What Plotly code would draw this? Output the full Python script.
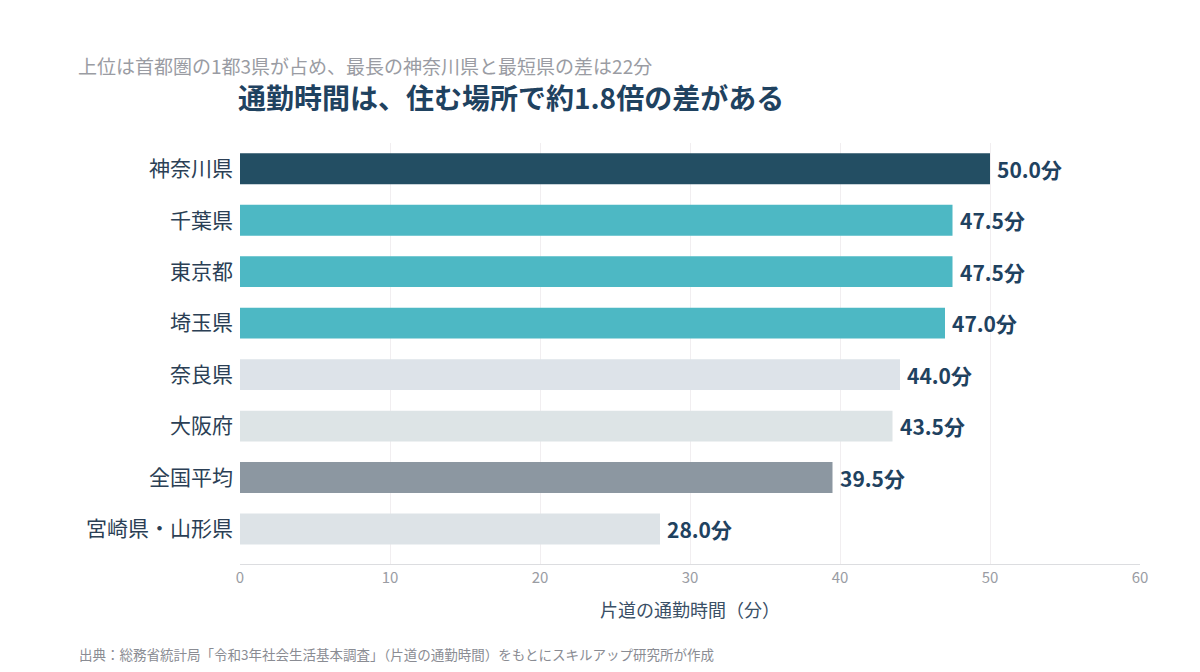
import plotly.graph_objects as go

categories = ["神奈川県", "千葉県", "東京都", "埼玉県", "奈良県", "大阪府", "全国平均", "宮崎県・山形県"]
values = [50.0, 47.5, 47.5, 47.0, 44.0, 43.5, 39.5, 28.0]
colors = ["#234e63", "#4db8c4", "#4db8c4", "#4db8c4", "#dde3e9", "#dde4e6", "#8c97a1", "#dde3e7"]
x_ticks = [0, 10, 20, 30, 40, 50, 60]

FONT = "Noto Sans CJK JP"

fig = go.Figure(go.Bar(
    x=values, y=categories, orientation="h",
    marker=dict(color=colors, line=dict(width=0)),
    width=0.6,
    hoverinfo="skip",
))

for c, v in zip(categories, values):
    fig.add_annotation(
        x=v, y=c, xref="x", yref="y", text=f"<b>{v:.1f}分</b>",
        xanchor="left", yanchor="middle", xshift=5, showarrow=False,
        font=dict(family=FONT, size=21, color="#1f4260"),
    )

fig.update_layout(
    width=1200, height=672,
    margin=dict(l=240, r=60, t=143, b=108),
    paper_bgcolor="white", plot_bgcolor="white",
    font=dict(family=FONT),
    showlegend=False,
    xaxis=dict(
        range=[0, 60], tickvals=x_ticks, showgrid=True, gridcolor="#f1eef0", gridwidth=1,
        zeroline=False, showline=True, linecolor="#dcdde0", linewidth=1,
        tickfont=dict(family=FONT, size=15, color="#9a9ca3"), ticks="",
        title=dict(text="片道の通勤時間（分）", font=dict(family=FONT, size=18, color="#3a4f66"), standoff=18),
    ),
    yaxis=dict(
        type="category", range=[7.68, -0.5], showgrid=False, zeroline=False,
        tickfont=dict(family=FONT, size=21, color="#2b3f55"), ticks="", ticklabelstandoff=6,
    ),
)

fig.add_annotation(
    text="上位は首都圏の1都3県が占め、最長の神奈川県と最短県の差は22分",
    xref="paper", yref="paper", x=-0.181, y=1 + (143 - 65) / 421, xanchor="left", yanchor="middle",
    showarrow=False, borderpad=0, font=dict(family=FONT, size=19, color="#9a9ca3"),
)
fig.add_annotation(
    text="<b>通勤時間は、住む場所で約1.8倍の差がある</b>",
    xref="paper", yref="paper", x=-0.003, y=1 + (143 - 97) / 421, xanchor="left", yanchor="middle",
    showarrow=False, borderpad=0, font=dict(family=FONT, size=28, color="#1f4260"),
)
fig.add_annotation(
    text="出典：総務省統計局「令和3年社会生活基本調査」（片道の通勤時間）をもとにスキルアップ研究所が作成",
    xref="paper", yref="paper", x=-0.181, y=-(654 - 564) / 421, xanchor="left", yanchor="middle",
    showarrow=False, font=dict(family=FONT, size=13.5, color="#8a8c93"),
)

fig.write_html("out.html")
